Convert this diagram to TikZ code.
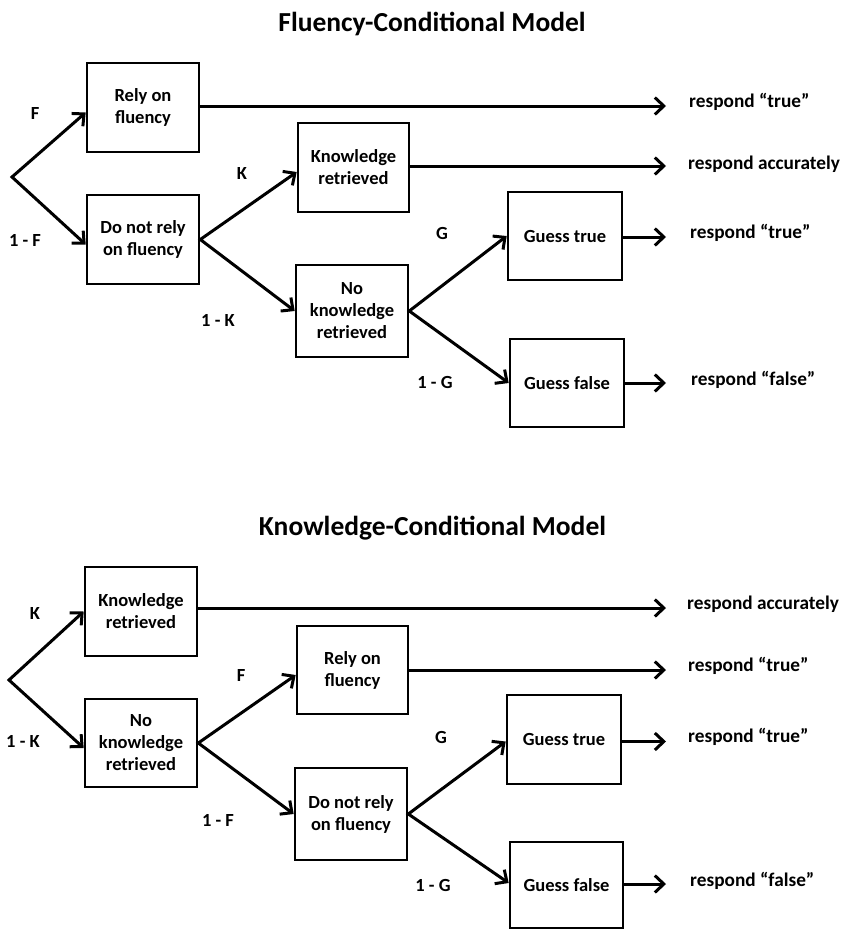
\documentclass[tikz,border=0pt]{standalone}
\usepackage{fontspec}
\setmainfont{Carlito}
\usetikzlibrary{arrows.meta}
\begin{document}
\begin{tikzpicture}[x=1pt,y=-1pt,
  box/.style={draw,line width=2.6pt,minimum width=112pt,minimum height=89pt,inner sep=0pt,align=center,font=\fontsize{18.5}{22}\selectfont\bfseries},
  tip/.tip={Straight Barb[length=9pt,width=17pt,line width=3pt]},
  arr/.style={line width=3pt,-tip},
  twoarr/.style={line width=3pt,tip-tip,line join=miter},
  lab/.style={font=\fontsize{18.5}{22}\selectfont\bfseries},
  resp/.style={anchor=west,inner sep=0pt,font=\fontsize{19.3}{22}\selectfont\bfseries},
  ttl/.style={anchor=base,inner sep=0pt,font=\fontsize{27.5}{32}\selectfont\bfseries}]
\useasboundingbox (0,0) rectangle (841,929);
\coordinate (X) at (666,0);

% ---------- Fluency-Conditional Model ----------
\node[ttl] (T1) at (432,31) {Fluency-Conditional Model};
\coordinate (O1) at (12,177);
\node[box] (R1) at (143,107.5) {Rely on\\fluency};
\node[box] (D1) at (143,239.5) {Do not rely\\on fluency};
\node[box,minimum width=111pt] (K1) at (353.5,167.5) {Knowledge\\retrieved};
\node[box,minimum height=92pt] (N1) at (352,311) {No\\knowledge\\retrieved};
\node[box,minimum width=114pt,minimum height=88pt] (GT1) at (565,236) {Guess true};
\node[box,minimum width=114pt,minimum height=88pt] (GF1) at (567,383) {Guess false};

\draw[twoarr] ([yshift=-5pt]R1.west) -- (O1) -- ([yshift=-5pt]D1.west);
\draw[twoarr] ([yshift=-4.5pt]K1.west) -- (D1.east) -- (N1.west);
\draw[twoarr] (GT1.west) -- (N1.east) -- (GF1.west);

\draw[arr] ([yshift=1.5pt]R1.east) -- ([yshift=1.5pt]R1.east -| X);
\draw[arr] ([yshift=1.5pt]K1.east) -- ([yshift=1.5pt]K1.east -| X);
\draw[arr] ([yshift=-1pt]GT1.east) -- ([yshift=-1pt]GT1.east -| X);
\draw[arr] (GF1.east) -- (GF1.east -| X);

\node[resp] (A1) at (689,102) {respond “true”};
\node[resp] (A2) at (688,164) {respond accurately};
\node[resp] (A3) at (690,233) {respond “true”};
\node[resp] (A4) at (691,380) {respond “false”};

\node[lab] (LF1) at (35,113) {F};
\node[lab] (LnF1) at (25,240) {1 - F};
\node[lab] (LK1) at (242,173) {K};
\node[lab] (LnK1) at (218,320) {1 - K};
\node[lab] (LG1) at (442,233) {G};
\node[lab] (LnG1) at (435,382) {1 - G};

% ---------- Knowledge-Conditional Model ----------
\node[ttl] (T2) at (432.5,535) {Knowledge-Conditional Model};
\coordinate (O2) at (9,680);
\node[box] (K2) at (141,611.5) {Knowledge\\retrieved};
\node[box,minimum height=88pt] (N2) at (141,743) {No\\knowledge\\retrieved};
\node[box,minimum width=111pt,minimum height=88pt] (R2) at (352.5,670) {Rely on\\fluency};
\node[box,minimum height=92pt] (D2) at (351,814) {Do not rely\\on fluency};
\node[box,minimum width=114pt] (GT2) at (564,739.5) {Guess true};
\node[box,minimum width=113pt,minimum height=86pt] (GF2) at (566.5,885) {Guess false};

\draw[twoarr] (K2.west) -- (O2) -- ([yshift=-5pt]N2.west);
\draw[twoarr] ([yshift=-5pt]R2.west) -- (N2.east) -- (D2.west);
\draw[twoarr] ([yshift=-2pt]GT2.west) -- (D2.east) -- ([yshift=2pt]GF2.west);

\draw[arr] ([yshift=3.5pt]K2.east) -- ([yshift=3.5pt]K2.east -| X);
\draw[arr] (R2.east) -- (R2.east -| X);
\draw[arr] ([yshift=-2pt]GT2.east) -- ([yshift=-2pt]GT2.east -| X);
\draw[arr] ([yshift=1pt]GF2.east) -- ([yshift=1pt]GF2.east -| X);

\node[resp] (B1) at (687,604) {respond accurately};
\node[resp] (B2) at (688,666) {respond “true”};
\node[resp] (B3) at (688,737) {respond “true”};
\node[resp] (B4) at (690,881) {respond “false”};

\node[lab] (LK2) at (35,613) {K};
\node[lab] (LnK2) at (23,741) {1 - K};
\node[lab] (LF2) at (241,675) {F};
\node[lab] (LnF2) at (218,820) {1 - F};
\node[lab] (LG2) at (441,737) {G};
\node[lab] (LnG2) at (433,885) {1 - G};
\end{tikzpicture}
\end{document}
